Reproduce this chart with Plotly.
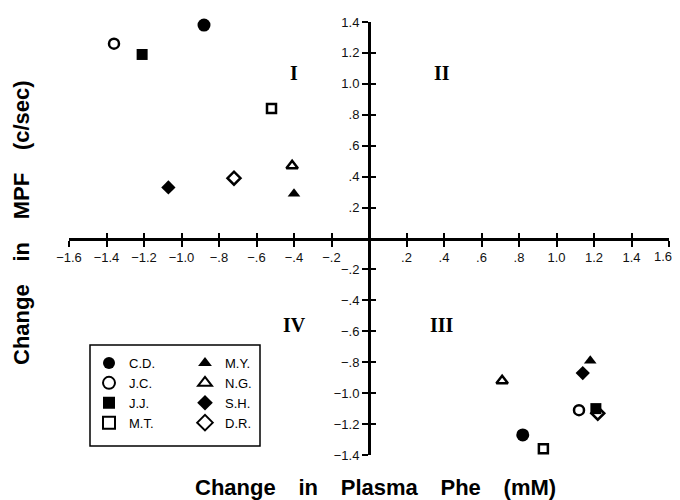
import plotly.graph_objects as go

# ---- data ----
subjects = ["C.D.", "J.C.", "J.J.", "M.T.", "M.Y.", "N.G.", "S.H.", "D.R."]
symbols = ["circle", "circle-open", "square", "square-open",
           "triangle-up", "triangle-up-open", "diamond", "diamond-open"]
sizes = [13, 10, 11, 9, 11, 10, 11, 10]

# quadrant I points (Phe decreased, MPF increased)
phe_decrease = [-0.88, -1.36, -1.21, -0.52, -0.40, -0.41, -1.07, -0.72]
mpf_increase = [1.38, 1.26, 1.19, 0.84, 0.29, 0.47, 0.33, 0.39]
# quadrant III points (Phe increased, MPF decreased)
phe_increase = [0.82, 1.12, 1.21, 0.93, 1.18, 0.71, 1.14, 1.22]
mpf_decrease = [-1.27, -1.11, -1.10, -1.36, -0.79, -0.92, -0.87, -1.13]

x_tickvals = [-1.6, -1.4, -1.2, -1.0, -0.8, -0.6, -0.4, -0.2, 0.2, 0.4, 0.6, 0.8, 1.0, 1.2, 1.4, 1.6]
x_ticktext = ["\u22121.6", "\u22121.4", "\u22121.2", "\u22121.0", "\u2212.8", "\u2212.6", "\u2212.4", "\u2212.2",
              ".2", ".4", ".6", ".8", "1.0", "1.2", "1.4", ""]
x_end_tickval = [1.6]
x_end_ticktext = ["1.6"]
y_tickvals = [1.4, 1.2, 1.0, 0.8, 0.6, 0.4, 0.2, -0.2, -0.4, -0.6, -0.8, -1.0, -1.2, -1.4]
y_ticktext = ["1.4", "1.2", "1.0", ".8", ".6", ".4", ".2",
              "\u2212.2", "\u2212.4", "\u2212.6", "\u2212.8", "\u22121.0", "\u22121.2", "\u22121.4"]

quadrant_labels = ["I", "II", "III", "IV"]
quadrant_x = [-0.40, 0.39, 0.39, -0.40]
quadrant_y = [1.07, 1.07, -0.56, -0.56]

# legend column of each subject
legend_of = ["legend", "legend", "legend", "legend", "legend2", "legend2", "legend2", "legend2"]

fig = go.Figure()
for i, name in enumerate(subjects):
    fig.add_trace(go.Scatter(
        x=[phe_decrease[i], phe_increase[i]],
        y=[mpf_increase[i], mpf_decrease[i]],
        mode="markers", name=name, legend=legend_of[i],
        cliponaxis=False,
        marker=dict(symbol=symbols[i], size=sizes[i], color="black",
                    line=dict(color="black", width=2.5 if "open" in symbols[i] else 0)),
    ))

# dummy traces so the overlay axes (crossing ticks, end label) are drawn
fig.add_trace(go.Scatter(x=[None], y=[None], xaxis="x2", yaxis="y2",
                         showlegend=False, hoverinfo="skip"))
fig.add_trace(go.Scatter(x=[None], y=[None], xaxis="x3", yaxis="y2",
                         showlegend=False, hoverinfo="skip"))

tick_font = dict(family="Liberation Sans, Arial", size=13, color="#111")
axis_common = dict(showgrid=False, zeroline=False, showline=True, linecolor="black",
                   linewidth=3, tickcolor="black", tickwidth=2, ticklen=6,
                   anchor="free", position=0.5, automargin=False, tickfont=tick_font)
overlay_common = dict(ticks="inside", showticklabels=False, showline=False, showgrid=False,
                      zeroline=False, tickcolor="black", tickwidth=2, ticklen=6,
                      anchor="free", position=0.5, automargin=False)
legend_common = dict(xanchor="left", yanchor="top", bgcolor="rgba(0,0,0,0)", borderwidth=0,
                     itemsizing="constant", tracegroupgap=7,
                     font=dict(family="Liberation Sans, Arial", size=13, color="black"))

# page body has an 8px margin: plot area is placed so it lands where the reference has it
fig.update_layout(
    width=680, height=500,
    margin=dict(l=61, r=19, t=14, b=53),
    paper_bgcolor="white", plot_bgcolor="white",
    showlegend=True,
    xaxis=dict(range=[-1.6, 1.6], tickvals=x_tickvals, ticktext=x_ticktext,
               ticks="outside", **axis_common),
    yaxis=dict(range=[-1.4, 1.4], tickvals=y_tickvals, ticktext=y_ticktext,
               ticks="outside", **axis_common),
    xaxis2=dict(range=[-1.6, 1.6], tickvals=x_tickvals, overlaying="x", **overlay_common),
    yaxis2=dict(range=[-1.4, 1.4], tickvals=y_tickvals, overlaying="y", **overlay_common),
    xaxis3=dict(range=[-1.6, 1.6], tickvals=x_end_tickval, ticktext=x_end_ticktext,
                overlaying="x", ticks="outside", ticklen=6, tickcolor="rgba(0,0,0,0)",
                showline=False, showgrid=False, zeroline=False, anchor="free", position=0.5,
                automargin=False, tickfont=tick_font, ticklabelshift=-6,
                ticklabeloverflow="allow"),
    legend=dict(x=(89 - 69) / 600, y=(455 - 348) / 433, **legend_common),
    legend2=dict(x=(185 - 69) / 600, y=(455 - 348) / 433, **legend_common),
    shapes=[dict(type="rect", xref="paper", yref="paper",
                 x0=(90 - 69) / 600, x1=(260 - 69) / 600,
                 y0=(455 - 446) / 433, y1=(455 - 345) / 433,
                 line=dict(color="black", width=1.5), fillcolor="rgba(0,0,0,0)")],
)

for lab, qx, qy in zip(quadrant_labels, quadrant_x, quadrant_y):
    fig.add_annotation(x=qx, y=qy, xref="x", yref="y", text="<b>" + lab + "</b>",
                       showarrow=False,
                       font=dict(family="Liberation Serif, Times New Roman", size=20, color="black"))

sp = "\u00a0\u00a0\u00a0\u2009"
fig.add_annotation(xref="paper", yref="paper", x=(375 - 69) / 600, y=(455 - 487) / 433,
                   text="<b>Change" + sp + "in" + sp + "Plasma" + sp + "Phe" + sp + "(mM)</b>",
                   showarrow=False, xanchor="center", yanchor="middle",
                   font=dict(family="Liberation Sans, Arial", size=22, color="black"))
fig.add_annotation(xref="paper", yref="paper", x=(21 - 69) / 600, y=(455 - 223) / 433,
                   text="<b>Change" + sp + "in" + sp + "MPF" + sp + "(c/sec)</b>",
                   showarrow=False, textangle=-90, xanchor="center", yanchor="middle",
                   font=dict(family="Liberation Sans, Arial", size=22, color="black"))

fig.write_html("out.html")
